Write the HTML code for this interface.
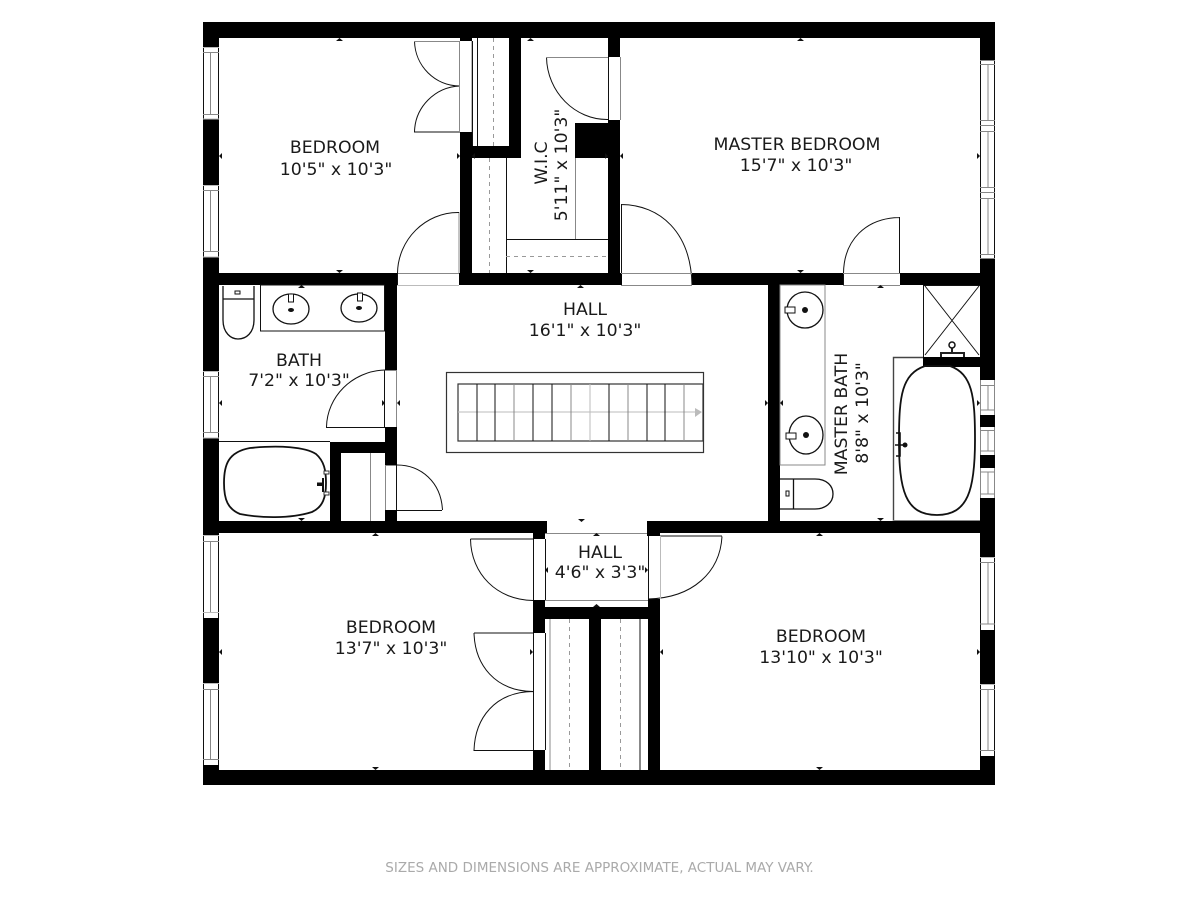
<!DOCTYPE html>
<html><head><meta charset="utf-8"><style>
html,body{margin:0;padding:0;background:#fff;width:1200px;height:900px;overflow:hidden}
svg{display:block}
text{font-family:"DejaVu Sans",sans-serif;fill:#1a1a1a;text-anchor:middle;font-size:17.3px}
.t{fill:none;stroke:#111;stroke-width:1}
.g{fill:none;stroke:#888;stroke-width:1}
.l{fill:none;stroke:#bbb;stroke-width:1}
.d{fill:none;stroke:#999;stroke-width:1;stroke-dasharray:4 4}
.s{fill:none;stroke:#111;stroke-width:1.3}
.o{fill:#fff;stroke:none}
</style></head><body>
<svg width="1200" height="900" viewBox="0 0 1200 900" xmlns="http://www.w3.org/2000/svg">
<!-- outer walls -->
<path fill="#000" fill-rule="evenodd" d="M203 22H995V785H203Z M219 38V770H980V38Z"/>
<!-- interior walls -->
<g fill="#000">
<rect x="219" y="273" width="178" height="12"/>
<rect x="459" y="273" width="163" height="12"/>
<rect x="692" y="273" width="151" height="12"/>
<rect x="900" y="273" width="80" height="12"/>
<rect x="460" y="132" width="12" height="153"/>
<rect x="460" y="38" width="12" height="3"/>
<rect x="460" y="146" width="61" height="12"/>
<rect x="509" y="38" width="12" height="120"/>
<rect x="608" y="38" width="12" height="19"/>
<rect x="608" y="120" width="12" height="165"/>
<rect x="575" y="123" width="45" height="35"/>
<rect x="385" y="285" width="12" height="85"/>
<rect x="385" y="427" width="12" height="38"/>
<rect x="385" y="510" width="12" height="11"/>
<rect x="330" y="442" width="67" height="11"/>
<rect x="330" y="442" width="11" height="79"/>
<rect x="219" y="521" width="328" height="12"/>
<rect x="647" y="521" width="333" height="12"/>
<rect x="768" y="285" width="12" height="236"/>
<rect x="923" y="357" width="57" height="10"/>
<rect x="533" y="533" width="12" height="6"/>
<rect x="533" y="600" width="12" height="33"/>
<rect x="533" y="750" width="12" height="20"/>
<rect x="533" y="607" width="127" height="12"/>
<rect x="589" y="607" width="12" height="163"/>
<rect x="648" y="599" width="12" height="171"/>
<rect x="647" y="533" width="13" height="3"/>
</g>
<!-- windows left -->
<g>
<rect class="o" x="203" y="47" width="16" height="72"/><path class="t" d="M203.500 47V119M218.500 47V119" stroke="#666"/><path class="l" d="M203 47.500H219M203 119H219"/><path class="g" d="M203 52.500H219M203 114.500H219M210.500 52V114"/>
<rect class="o" x="203" y="185" width="16" height="72"/><path class="t" d="M203.500 185V257M218.500 185V257"/><path class="l" d="M203 185.500H219M203 257H219"/><path class="g" d="M203 190.500H219M203 251.500H219M210.500 190V252"/>
<rect class="o" x="203" y="371" width="16" height="67"/><path class="t" d="M203.500 371V438M218.500 371V438"/><path class="l" d="M203 371.500H219M203 438H219"/><path class="g" d="M203 376.500H219M203 432.500H219M210.500 376V432"/>
<rect class="o" x="203" y="535" width="16" height="83"/><path class="t" d="M203.500 535V618M218.500 535V618"/><path class="l" d="M203 535.500H219M203 612.500H219"/><path class="g" d="M203 541.500H219M210.500 541V612"/>
<rect class="o" x="203" y="683" width="16" height="82"/><path class="t" d="M203.500 683V765M218.500 683V765"/><path class="l" d="M203 683.500H219"/><path class="g" d="M203 689.500H219M203 759.500H219M210.500 689V759"/>
</g>
<!-- windows right -->
<g>
<rect class="o" x="980" y="60" width="15" height="199"/><path class="t" d="M980.500 60V259M994.500 60V259"/>
<path class="g" d="M980 60.500H995M980 64.500H995M980 120.500H995M980 125.500H995M980 131.500H995M980 187.500H995M980 192.500H995M980 198.500H995M980 254.500H995M980 258.500H995M988 65V120M988 132V187M988 199V254"/>
<rect class="o" x="980" y="557" width="15" height="73"/><path class="t" d="M980.500 557V630M994.500 557V630"/><path class="g" d="M980 562.500H995M980 624H995M988 563V624"/><path class="l" d="M980 557.500H995"/>
<rect class="o" x="980" y="684" width="15" height="72"/><path class="t" d="M980.500 684V756M994.500 684V756"/><path class="g" d="M980 689.500H995M980 750.500H995M988 690V750"/><path class="l" d="M980 684.500H995"/>
<rect class="o" x="980" y="380" width="15" height="35"/><path class="g" d="M980.500 380V415M994.500 380V415M980 385.500H995M980 410H995M988 386V410"/>
<rect class="o" x="980" y="427" width="15" height="28"/><path class="g" d="M980.500 427V455M994.500 427V455M980 430.500H995M980 451H995M988 431V451"/>
<rect class="o" x="980" y="468" width="15" height="30"/><path class="g" d="M980.500 468V498M994.500 468V498M980 472H995M980 494H995M988 472V494"/>
</g>
<!-- door openings -->
<path class="l" d="M397 285.500H459"/><path class="g" d="M397 273.500H459M459 212V273"/>
<path class="t" d="M459 212.500C425 212 398 240 397.500 273V285"/>
<path class="t" d="M621.500 204V273M621.500 204.500C660 205 691 232 692 285"/><path class="g" d="M621 285.500H692M621 273.500H692"/>
<path class="t" d="M899.500 217V273M899.500 217.500C866 218 844 240 843.500 273V285"/><path class="g" d="M843 285.500H900M843 273.500H900"/>
<!-- bedroom closet double door -->
<path class="t" d="M414.500 41C415 66 435 86 460 86C435 87 415 107 414.500 132H460"/><path class="g" d="M414 41.500H460M459.500 41V132"/><path class="l" d="M471.500 41V132"/>
<path class="t" d="M472.500 41V146M477.500 38V146"/><path class="d" d="M493.500 38V146"/>
<!-- WIC -->
<path class="t" d="M546.500 57C547 92 575 120 608 119.500"/><path class="g" d="M546 57.500H608"/><path class="t" d="M608.500 57V120"/><path class="g" d="M620.500 57V120"/>
<path class="t" d="M506.500 158V273M506 239.500H608"/><path class="g" d="M575.500 158V239"/><path class="d" d="M506 256.500H608M489.500 158V273"/>
<!-- bath -->
<rect class="t" x="260.500" y="285" width="124" height="46"/>
<path class="s" d="M223 286V320C223 333 231 339 238 339C246 339 254 333 254 320V286M223 299H254"/>
<rect x="235" y="291" width="5" height="3" fill="#fff" stroke="#111"/>
<ellipse class="s" cx="291" cy="309" rx="18" ry="15"/><ellipse class="s" cx="359" cy="308" rx="18" ry="14"/>
<ellipse cx="291" cy="310" rx="3" ry="2" fill="#111"/><ellipse cx="359" cy="308" rx="3" ry="2" fill="#111"/>
<rect x="288.500" y="294" width="5" height="8" fill="#fff" stroke="#111"/><rect x="357.500" y="293" width="5" height="8" fill="#fff" stroke="#111"/>
<path class="g" d="M385 370.500H397M396.500 370V427"/><path class="t" d="M384.500 370V427M326 427.500H385M385 370C352 371 327 397 326.500 427"/>
<path class="t" d="M219 441.500H330"/>
<path fill="none" stroke="#111" stroke-width="1.800" d="M250 448C280 445 305 447 316 454C324 461 326 470 326 483C326 497 323 507 312 512C290 519 260 518 240 514C228 509 224 500 224 483C224 465 228 452 250 448Z"/>
<path fill="none" stroke="#111" stroke-width="2" d="M323 483.500H318V485H323M323 478V492"/>
<rect x="324" y="471" width="5" height="3" fill="#fff" stroke="#333"/><rect x="324" y="492" width="5" height="3" fill="#fff" stroke="#333"/>
<path class="g" d="M370.500 453V521"/><path class="g" d="M397 465.500H385M385.500 465V510"/><path class="t" d="M397 465C421 465 441 482 442.500 510M397 510.500H442M396.500 465V510"/>
<!-- stairs -->
<rect x="446.500" y="372.500" width="257" height="80" fill="none" stroke="#333" stroke-width="1.200"/>
<rect x="458" y="384" width="245" height="57" fill="none" stroke="#333" stroke-width="1.200"/>
<path class="l" d="M458 412H696"/>
<polygon points="695,408 702,412 695,417" fill="#bbb"/>
<path class="t" d="M477 384V441M495 384V441M533 384V441M552 384V441M609 384V441M647 384V441M665 384V441"/>
<path class="g" d="M514 384V441M684 384V441M571 384V441M628 384V441"/><path class="l" d="M590 384V441"/>
<!-- master bath -->
<rect class="g" x="780" y="285" width="45" height="180"/>
<circle class="s" cx="805" cy="310" r="18"/><ellipse class="s" cx="806" cy="435" rx="17" ry="19"/>
<circle cx="805" cy="310" r="3" fill="#111"/><circle cx="806" cy="435" r="3" fill="#111"/>
<rect x="785" y="307" width="10" height="6" fill="#fff" stroke="#111"/><rect x="786" y="433" width="10" height="6" fill="#fff" stroke="#111"/>
<path class="s" d="M780 479H815C827 479 833 486 833 494C833 503 825 509 815 509H780M793.500 479V509"/><rect x="786" y="491" width="3" height="5" fill="#fff" stroke="#111"/>
<path class="t" d="M923.500 285V357M923 285.500H980"/>
<path class="t" d="M925 286L979 355M979 286L925 355"/>
<path fill="none" stroke="#222" stroke-width="2" d="M941 357V353H964V357M952 353V346"/><circle cx="952" cy="345" r="3" fill="#fff" stroke="#111" stroke-width="1.500"/>
<path d="M893.500 521V357.500H923" fill="none" stroke="#444" stroke-width="1.400"/><path class="g" d="M893 520.500H980"/>
<path fill="none" stroke="#111" stroke-width="1.800" d="M925 366C902 374 899 395 899 440C899 490 905 515 937 515C968 515 975 490 975 440C975 395 972 374 950 366Z"/>
<path fill="none" stroke="#111" stroke-width="1.600" d="M895 445H904M896 433H900V456H896"/><circle cx="905" cy="445" r="2.500" fill="#111"/>
<!-- lower hall -->
<path class="g" d="M545 533.500H647"/><path class="t" d="M533.500 539V600M545.500 539V600"/>
<path class="g" d="M545 600.500H648"/>
<path class="t" d="M470.500 539H533M470.500 539C471 574 497 600 533 600.500"/>
<path class="t" d="M722 536H660M722 536.500C720 572 693 598 648 599"/><path class="t" d="M648.500 536V599"/><path class="l" d="M660.500 536V599"/>
<path class="t" d="M474 633H533M474 633C475 665 495 691 533 691.500C495 692 475 718 474 750.500H533M533.500 633V750M545.500 633V750"/>
<path class="g" d="M550 619V770"/><path class="d" d="M569.500 619V770M620.500 619V770"/><path class="t" d="M640 619V770"/>
<!-- tick marks -->
<g fill="#111">
<polygon points="336,41 343,41 339.500,38"/><polygon points="336,270 343,270 339.500,273"/><polygon points="219,156 222,153 222,159"/><polygon points="460,156 457,153 457,159"/>
<polygon points="527,41 534,41 530.500,38"/><polygon points="527,270 534,270 530.500,273"/><polygon points="472,156 475,153 475,159"/><polygon points="608,156 605,153 605,159"/>
<polygon points="797,41 804,41 800.500,38"/><polygon points="797,270 804,270 800.500,273"/><polygon points="620,156 623,153 623,159"/><polygon points="980,156 977,153 977,159"/>
<polygon points="298,288 305,288 301.500,285"/><polygon points="298,518 305,518 301.500,521"/><polygon points="219,403 222,400 222,406"/><polygon points="385,403 382,400 382,406"/>
<polygon points="577,288 584,288 580.500,285" /><polygon points="578,519 585,519 581.500,522"/><polygon points="397,403 400,400 400,406"/><polygon points="768,403 765,400 765,406"/>
<polygon points="877,288 884,288 880.500,285"/><polygon points="877,518 884,518 880.500,521"/><polygon points="780,403 783,400 783,406"/><polygon points="980,403 977,400 977,406"/>
<polygon points="372,536 379,536 375.500,533"/><polygon points="372,767 379,767 375.500,770"/><polygon points="219,652 222,649 222,655"/><polygon points="533,652 530,649 530,655"/>
<polygon points="593,536 600,536 596.500,533"/><polygon points="593,607 600,607 596.500,604"/><polygon points="545,570 548,567 548,573"/><polygon points="648,570 645,567 645,573"/>
<polygon points="816,536 823,536 819.500,533"/><polygon points="816,767 823,767 819.500,770"/><polygon points="660,652 663,649 663,655"/><polygon points="980,652 977,649 977,655"/>
</g>
<!-- labels -->
<text x="335" y="153">BEDROOM</text><text x="336" y="175">10'5" x 10'3"</text>
<text x="797" y="150">MASTER BEDROOM</text><text x="796" y="171">15'7" x 10'3"</text>
<text x="585" y="315">HALL</text><text x="585" y="336">16'1" x 10'3"</text>
<text x="299" y="366">BATH</text><text x="299" y="386">7'2" x 10'3"</text>
<text x="600" y="558">HALL</text><text x="600" y="578">4'6" x 3'3"</text>
<text x="391" y="633">BEDROOM</text><text x="391" y="654">13'7" x 10'3"</text>
<text x="821" y="642">BEDROOM</text><text x="821" y="663">13'10" x 10'3"</text>
<text transform="translate(547 163) rotate(-90)">W.I.C</text>
<text transform="translate(567 165) rotate(-90)">5'11" x 10'3"</text>
<text transform="translate(847 414) rotate(-90)">MASTER BATH</text>
<text transform="translate(868 413) rotate(-90)">8'8" x 10'3"</text>
<text x="599.500" y="872" style="font-size:13.500px;fill:#aaa">SIZES AND DIMENSIONS ARE APPROXIMATE, ACTUAL MAY VARY.</text>
</svg>
</body></html>
